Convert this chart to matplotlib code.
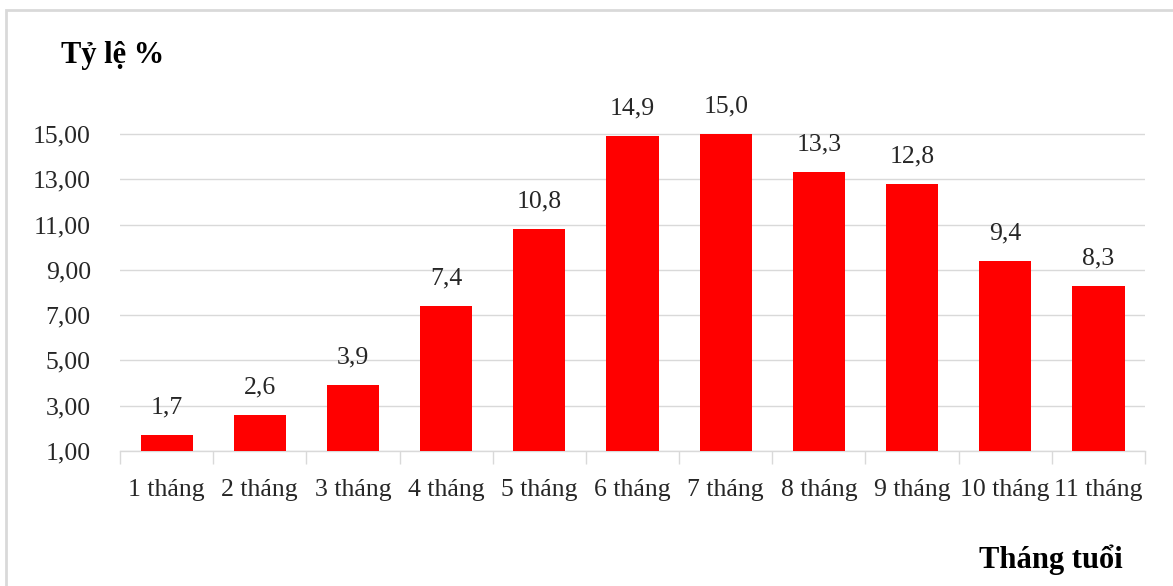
import matplotlib
matplotlib.use("Agg")
import matplotlib.pyplot as plt
from matplotlib.patches import Rectangle
import numpy as np

categories = ["1 tháng", "2 tháng", "3 tháng", "4 tháng", "5 tháng", "6 tháng",
              "7 tháng", "8 tháng", "9 tháng", "10 tháng", "11 tháng"]
values = [1.7, 2.6, 3.9, 7.4, 10.8, 14.9, 15.0, 13.3, 12.8, 9.4, 8.3]
y_ticks = [1, 3, 5, 7, 9, 11, 13, 15]
y_tick_labels = ["1,00", "3,00", "5,00", "7,00", "9,00", "11,00", "13,00", "15,00"]
value_labels = ["1,7", "2,6", "3,9", "7,4", "10,8", "14,9", "15,0", "13,3", "12,8", "9,4", "8,3"]

plt.rcParams["font.family"] = ["Liberation Serif", "DejaVu Serif"]

W, H = 1173, 586
fig = plt.figure(figsize=(W / 100, H / 100), dpi=100)
ax = fig.add_axes([120 / W, 1 - 451 / H, (1145 - 120) / W, (451 - 88.7) / H])

base = 1.0
x = np.arange(len(categories))
heights = [v - base for v in values]
ax.bar(x, heights, bottom=base, width=0.56, color="#FF0000", zorder=3)

for xi, v, lab in zip(x, values, value_labels):
    ax.annotate(lab, (xi, v), xytext=(0, 12), textcoords="offset points",
                ha="center", va="bottom", fontsize=18.5, color="#262626")

ax.set_xlim(-0.5, len(categories) - 0.5)
ax.set_ylim(1, 17)
ax.set_yticks(y_ticks)
ax.set_yticklabels(y_tick_labels)
ax.set_xticks(x)
ax.set_xticklabels(categories)
ax.set_xticks(np.arange(-0.5, len(categories), 1.0), minor=True)

ax.tick_params(axis="y", length=0, labelsize=18.5, labelcolor="#262626", pad=21)
ax.tick_params(axis="x", which="major", length=0, labelsize=18.5, labelcolor="#262626", pad=20)
ax.tick_params(axis="x", which="minor", length=9, width=1, color="#D9D9D9")

ax.grid(axis="y", color="#D9D9D9", linewidth=1, zorder=0)
for side in ["top", "right", "left"]:
    ax.spines[side].set_visible(False)
ax.spines["bottom"].set_color("#D9D9D9")
ax.spines["bottom"].set_linewidth(1)

fig.text(113 / W, 1 - 55 / H, "Tỷ lệ %", ha="center", va="center",
         fontsize=22, fontweight="bold", color="black")
fig.text(1051 / W, 1 - 560 / H, "Tháng tuổi", ha="center", va="center",
         fontsize=22, fontweight="bold", color="black")

# chart-area frame: only its top and left edges fall inside the canvas
fig.patches.append(Rectangle((6 / W, -0.1), 1.2, 1.1 - 10 / H,
                             transform=fig.transFigure, fill=False,
                             edgecolor="#D9D9D9", linewidth=2, clip_on=False))

fig.savefig("out.png", dpi=100, facecolor="white")
